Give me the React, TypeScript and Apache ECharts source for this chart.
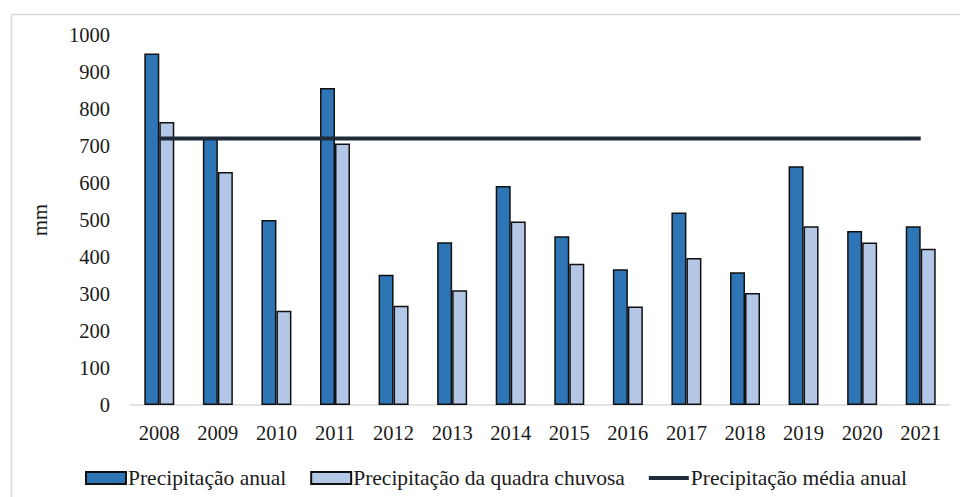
import React, { useEffect, useRef } from "react";
import * as echarts from "echarts";

const years = ["2008","2009","2010","2011","2012","2013","2014","2015","2016","2017","2018","2019","2020","2021"];
const annual = [950, 720, 500, 857, 352, 440, 592, 456, 367, 520, 359, 645, 470, 483];
const rainySeason = [765, 630, 255, 707, 268, 310, 496, 382, 266, 397, 303, 483, 439, 422];
const meanAnnual = [720, 720, 720, 720, 720, 720, 720, 720, 720, 720, 720, 720, 720, 720];

const FONT = "Liberation Serif";

export default function App() {
  const ref = useRef<HTMLDivElement>(null);
  useEffect(() => {
    if (!ref.current) return;
    const chart = echarts.init(ref.current, undefined, { renderer: "svg" });
    chart.setOption({
      animation: false,
      backgroundColor: "#ffffff",
      textStyle: { fontFamily: FONT, color: "#262626" },
      graphic: [
        {
          type: "rect",
          shape: { x: 11.5, y: 14.5, width: 1000, height: 600 },
          style: { fill: "none", stroke: "#d9d9d9", lineWidth: 1.5 },
          silent: true,
          z: -10,
        },
      ],
      grid: { left: 130, right: 10, top: 35, bottom: 92, containLabel: false },
      legend: {
        left: 80,
        top: 462,
        itemWidth: 40,
        itemHeight: 12,
        itemGap: 24,
        textStyle: { fontFamily: FONT, fontSize: 21.5, color: "#1a1a1a", padding: [0, 0, 0, -3] },
        data: [
          { name: "Precipitação anual", icon: "rect" },
          { name: "Precipitação da quadra chuvosa", icon: "rect" },
          { name: "Precipitação média anual", icon: "path://M0,0 L42,0 L42,4 L0,4 Z" },
        ],
      },
      xAxis: {
        type: "category",
        data: years,
        boundaryGap: true,
        axisLine: { show: true, lineStyle: { color: "#d9d9d9", width: 1.5 } },
        axisTick: { show: false },
        axisLabel: { fontFamily: FONT, fontSize: 20.5, color: "#1a1a1a", margin: 17 },
      },
      yAxis: {
        type: "value",
        min: 0,
        max: 1000,
        interval: 100,
        name: "mm",
        nameLocation: "middle",
        nameGap: 80,
        nameTextStyle: { fontFamily: FONT, fontSize: 20.5, color: "#1a1a1a" },
        axisLine: { show: false },
        axisTick: { show: false },
        splitLine: { show: false },
        axisLabel: {
          fontFamily: FONT,
          fontSize: 20.5,
          color: "#1a1a1a",
          margin: 20,
          formatter: (v: number) => String(v),
        },
      },
      series: [
        {
          name: "Precipitação anual",
          type: "bar",
          data: annual,
          barWidth: 15,
          barGap: "0%",
          itemStyle: { color: "#2e75b6", borderColor: "#111111", borderWidth: 1.5 },
        },
        {
          name: "Precipitação da quadra chuvosa",
          type: "bar",
          data: rainySeason,
          barWidth: 15,
          barGap: "0%",
          itemStyle: { color: "#b4c7e7", borderColor: "#111111", borderWidth: 1.5 },
        },
        {
          name: "Precipitação média anual",
          type: "line",
          data: meanAnnual,
          symbol: "none",
          color: "#1f2b3b",
          lineStyle: { color: "#1f2b3b", width: 4 },
          itemStyle: { color: "#1f2b3b" },
          z: 5,
        },
      ],
    });
    return () => chart.dispose();
  }, []);
  return (
    <div
      ref={ref}
      style={{ position: "fixed", left: 0, top: 0, width: 960, height: 497 }}
    />
  );
}
